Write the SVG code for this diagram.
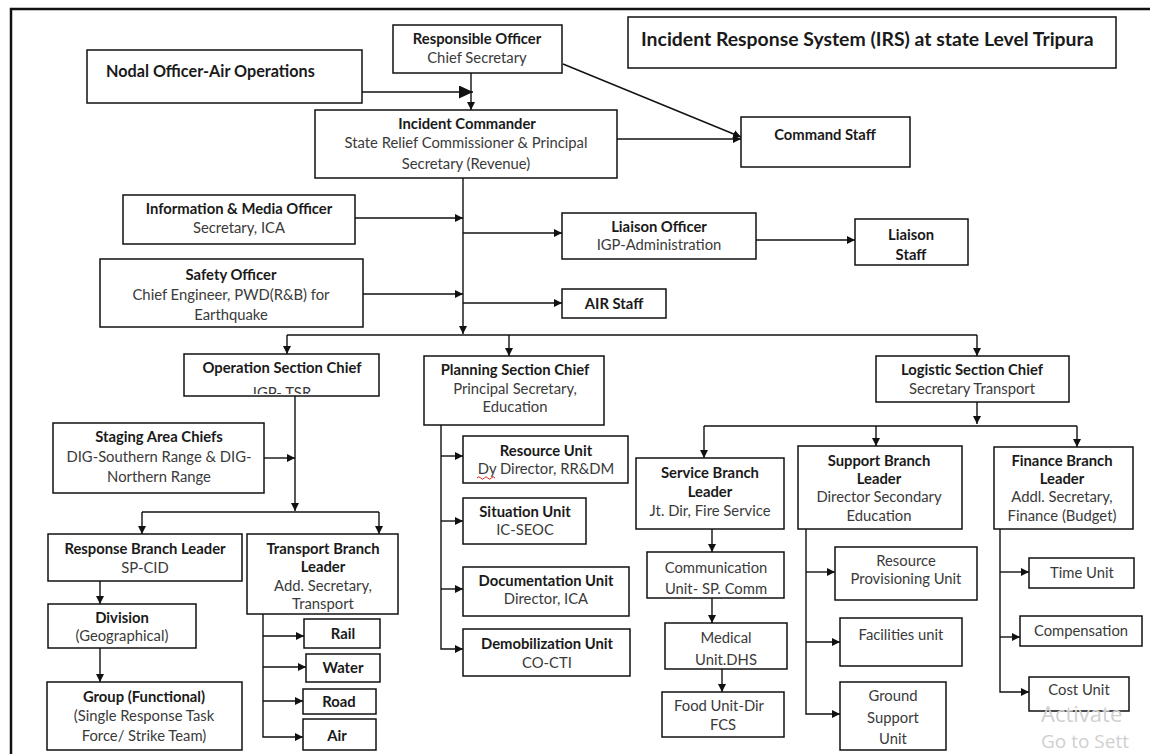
<svg xmlns="http://www.w3.org/2000/svg" width="1150" height="754" viewBox="0 0 1150 754">
<style>
.b{fill:#fff;stroke:#111;stroke-width:1.5}
text{font-family:Lato,"Liberation Sans",sans-serif;font-size:14.8px;fill:#3a3a3a;text-anchor:middle}
.h{font-weight:bold;fill:#1a1a1a}
.c path{stroke:#111;stroke-width:1.4;fill:none}
.wm{fill:#d0d0d0;font-family:"Open Sans","Liberation Sans",sans-serif;text-anchor:start}
</style>
<defs>
<marker id="a" markerUnits="userSpaceOnUse" markerWidth="9" markerHeight="8" refX="8" refY="4" orient="auto"><path d="M0,0 L8,4 L0,8 z" fill="#111"/></marker>
<marker id="A" markerUnits="userSpaceOnUse" markerWidth="16" markerHeight="14" refX="14" refY="6.5" orient="auto"><path d="M0,0 L14,6.5 L0,13 z" fill="#111"/></marker>
<clipPath id="opc"><rect x="184" y="354" width="195" height="40"/></clipPath>
</defs>
<rect width="1150" height="754" fill="#fff"/>
<path d="M11,754 V9 H1150" fill="none" stroke="#111" stroke-width="2.5"/>

<g class="c">
<path d="M471,73 V110" marker-end="url(#a)"/>
<path d="M362,92 H473" marker-end="url(#A)"/>
<path d="M563,64 L741,137" marker-end="url(#a)"/>
<path d="M617,139 H741" marker-end="url(#a)"/>
<path d="M463,178 V334" marker-end="url(#a)"/>
<path d="M355,218 H463" marker-end="url(#a)"/>
<path d="M363,294 H463" marker-end="url(#a)"/>
<path d="M463,233 H562" marker-end="url(#a)"/>
<path d="M463,303 H562" marker-end="url(#a)"/>
<path d="M756,240 H855" marker-end="url(#a)"/>
<path d="M287,335 H977"/>
<path d="M287,335 V354" marker-end="url(#a)"/>
<path d="M509,335 V356" marker-end="url(#a)"/>
<path d="M977,335 V356" marker-end="url(#a)"/>
<path d="M295,396 V511" marker-end="url(#a)"/>
<path d="M264,458 H295" marker-end="url(#a)"/>
<path d="M142,512 H379"/>
<path d="M142,512 V534" marker-end="url(#a)"/>
<path d="M379,512 V534" marker-end="url(#a)"/>
<path d="M100,581 V604" marker-end="url(#a)"/>
<path d="M100,648 V682" marker-end="url(#a)"/>
<path d="M263,614 V737 H303" marker-end="url(#a)"/>
<path d="M263,636 H304" marker-end="url(#a)"/>
<path d="M263,667 H306" marker-end="url(#a)"/>
<path d="M263,701 H303" marker-end="url(#a)"/>
<path d="M441,425 V649 H463" marker-end="url(#a)"/>
<path d="M441,456 H463" marker-end="url(#a)"/>
<path d="M441,521 H463" marker-end="url(#a)"/>
<path d="M441,589 H463" marker-end="url(#a)"/>
<path d="M977,402 V424" marker-end="url(#a)"/>
<path d="M704,426 H1077"/>
<path d="M704,426 V458" marker-end="url(#a)"/>
<path d="M876,426 V446" marker-end="url(#a)"/>
<path d="M1077,426 V447" marker-end="url(#a)"/>
<path d="M712,529 V552" marker-end="url(#a)"/>
<path d="M712,598 V623" marker-end="url(#a)"/>
<path d="M722,669 V692" marker-end="url(#a)"/>
<path d="M806,529 V714 H840" marker-end="url(#a)"/>
<path d="M806,572 H835" marker-end="url(#a)"/>
<path d="M806,642 H840" marker-end="url(#a)"/>
<path d="M1000,529 V692 H1029" marker-end="url(#a)"/>
<path d="M1000,572 H1029" marker-end="url(#a)"/>
<path d="M1000,637 H1020" marker-end="url(#a)"/>
</g>

<g id="nodal"><rect class="b" x="87" y="50" width="275" height="53"/><text class="h" x="106" y="77" style="text-anchor:start;font-size:16.2px">Nodal Officer-Air Operations</text></g>
<g id="responsible"><rect class="b" x="393" y="25" width="169" height="48"/><text class="h" x="477" y="44">Responsible Officer</text><text x="477" y="63">Chief Secretary</text></g>
<g id="title"><rect class="b" x="628" y="17" width="488" height="51"/><text class="h" x="641" y="46" style="text-anchor:start;font-size:19.4px">Incident Response System (IRS) at state Level Tripura</text></g>
<g id="ic"><rect class="b" x="315" y="110" width="302" height="68"/><text class="h" x="467" y="129">Incident Commander</text><text x="466" y="148">State Relief Commissioner &amp; Principal</text><text x="466" y="169">Secretary (Revenue)</text></g>
<g id="command"><rect class="b" x="741" y="117" width="169" height="50"/><text class="h" x="825" y="140">Command Staff</text></g>
<g id="info"><rect class="b" x="123" y="195" width="232" height="49"/><text class="h" x="239" y="214">Information &amp; Media Officer</text><text x="239" y="233">Secretary, ICA</text></g>
<g id="safety"><rect class="b" x="100" y="259" width="263" height="68"/><text class="h" x="231" y="280">Safety Officer</text><text x="231" y="300">Chief Engineer, PWD(R&amp;B) for</text><text x="231" y="320">Earthquake</text></g>
<g id="liaison"><rect class="b" x="562" y="213" width="194" height="46"/><text class="h" x="659" y="232">Liaison Officer</text><text x="659" y="250">IGP-Administration</text></g>
<g id="liaisonstaff"><rect class="b" x="855" y="219" width="113" height="46"/><text class="h" x="911" y="240">Liaison</text><text class="h" x="911" y="260">Staff</text></g>
<g id="airstaff"><rect class="b" x="562" y="289" width="104" height="29"/><text class="h" x="614" y="308.5">AIR Staff</text></g>

<g id="operation"><rect class="b" x="184" y="354" width="195" height="42"/><text class="h" x="282" y="373">Operation Section Chief</text><text x="282" y="397.5" clip-path="url(#opc)">IGP- TSR</text></g>
<g id="staging"><rect class="b" x="53" y="423" width="211" height="70"/><text class="h" x="159" y="442">Staging Area Chiefs</text><text x="159" y="462">DIG-Southern Range &amp; DIG-</text><text x="159" y="482">Northern Range</text></g>
<g id="response"><rect class="b" x="48" y="534" width="194" height="47"/><text class="h" x="145" y="554">Response Branch Leader</text><text x="145" y="573">SP-CID</text></g>
<g id="transport"><rect class="b" x="247" y="534" width="151" height="80"/><text class="h" x="323" y="554">Transport Branch</text><text class="h" x="323" y="572">Leader</text><text x="323" y="590.5">Add. Secretary,</text><text x="323" y="608.5">Transport</text></g>
<g id="division"><rect class="b" x="48" y="604" width="148" height="44"/><text class="h" x="122" y="623">Division</text><text x="122" y="641">(Geographical)</text></g>
<g id="group"><rect class="b" x="47" y="682" width="195" height="68"/><text class="h" x="144" y="702">Group (Functional)</text><text x="144" y="721">(Single Response Task</text><text x="144" y="741">Force/ Strike Team)</text></g>
<g id="rail"><rect class="b" x="304" y="619" width="76" height="29"/><text class="h" x="343" y="639">Rail</text></g>
<g id="water"><rect class="b" x="306" y="654" width="74" height="28"/><text class="h" x="343" y="673">Water</text></g>
<g id="road"><rect class="b" x="303" y="689" width="73" height="25"/><text class="h" x="339" y="706.5">Road</text></g>
<g id="air"><rect class="b" x="303" y="719" width="73" height="31"/><text class="h" x="337" y="741">Air</text></g>

<g id="planning"><rect class="b" x="424" y="356" width="180" height="69"/><text class="h" x="515" y="375">Planning Section Chief</text><text x="515" y="394">Principal Secretary,</text><text x="515" y="412">Education</text></g>
<g id="resourceunit"><rect class="b" x="463" y="436" width="165" height="47"/><text class="h" x="546" y="456">Resource Unit</text><text x="546" y="474">Dy Director, RR&amp;DM</text><path d="M477,478 q1.8,-2.5 3.6,0 t3.6,0 t3.6,0 t3.6,0 t3.6,0" fill="none" stroke="#d22" stroke-width="1"/></g>
<g id="situation"><rect class="b" x="463" y="498" width="123" height="46"/><text class="h" x="525" y="517">Situation Unit</text><text x="525" y="535">IC-SEOC</text></g>
<g id="documentation"><rect class="b" x="463" y="567" width="166" height="49"/><text class="h" x="546" y="586">Documentation Unit</text><text x="546" y="604">Director, ICA</text></g>
<g id="demobilization"><rect class="b" x="463" y="629" width="167" height="47"/><text class="h" x="547" y="649">Demobilization Unit</text><text x="547" y="668">CO-CTI</text></g>

<g id="logistic"><rect class="b" x="876" y="356" width="193" height="46"/><text class="h" x="972" y="375">Logistic Section Chief</text><text x="972" y="394">Secretary Transport</text></g>
<g id="service"><rect class="b" x="636" y="458" width="148" height="71"/><text class="h" x="710" y="478">Service Branch</text><text class="h" x="710" y="497">Leader</text><text x="710" y="516">Jt. Dir, Fire Service</text></g>
<g id="communication"><rect class="b" x="647" y="552" width="137" height="46"/><text x="716" y="573">Communication</text><text x="716" y="594">Unit- SP. Comm</text></g>
<g id="medical"><rect class="b" x="665" y="623" width="122" height="46"/><text x="726" y="643">Medical</text><text x="726" y="664.5">Unit.DHS</text></g>
<g id="food"><rect class="b" x="662" y="692" width="122" height="45"/><text x="719" y="711">Food Unit-Dir</text><text x="723" y="730">FCS</text></g>
<g id="support"><rect class="b" x="798" y="446" width="164" height="83"/><text class="h" x="879" y="466">Support Branch</text><text class="h" x="879" y="484">Leader</text><text x="879" y="502">Director Secondary</text><text x="879" y="520.5">Education</text></g>
<g id="finance"><rect class="b" x="994" y="447" width="139" height="82"/><text class="h" x="1062" y="466">Finance Branch</text><text class="h" x="1062" y="484">Leader</text><text x="1062" y="502">Addl. Secretary,</text><text x="1062" y="520.5">Finance (Budget)</text></g>
<g id="provisioning"><rect class="b" x="835" y="547" width="142" height="53"/><text x="906" y="566">Resource</text><text x="906" y="584">Provisioning Unit</text></g>
<g id="facilities"><rect class="b" x="840" y="618" width="122" height="48"/><text x="901" y="640">Facilities unit</text></g>
<g id="ground"><rect class="b" x="840" y="682" width="106" height="68"/><text x="893" y="701">Ground</text><text x="893" y="723">Support</text><text x="893" y="744">Unit</text></g>
<g id="time"><rect class="b" x="1029" y="558" width="105" height="30"/><text x="1082" y="578">Time Unit</text></g>
<g id="compensation"><rect class="b" x="1020" y="616" width="122" height="30"/><text x="1081" y="636">Compensation</text></g>
<g id="cost"><rect class="b" x="1029" y="677" width="100" height="34"/><text x="1079" y="695">Cost Unit</text></g>

<text class="wm" x="1041" y="722" style="font-size:22px">Activate</text>
<text class="wm" x="1041" y="748" style="font-size:19px">Go to Sett</text>
</svg>
